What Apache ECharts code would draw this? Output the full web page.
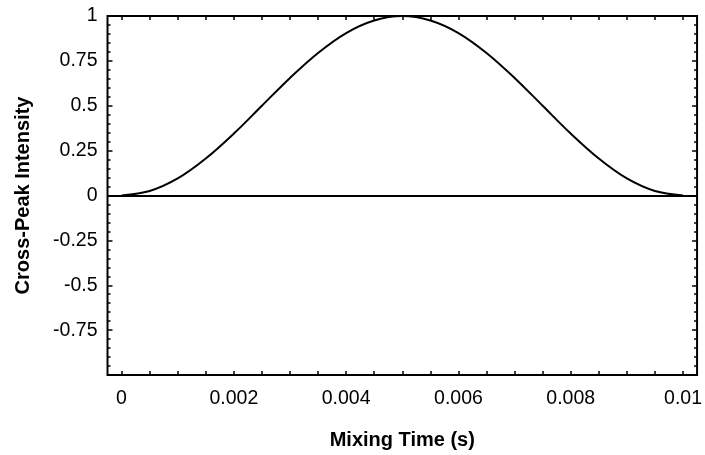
<!DOCTYPE html>
<html><head><meta charset="utf-8">
<script src="https://cdn.jsdelivr.net/npm/echarts@6/dist/echarts.min.js"></script>
<style>html,body{margin:0;padding:0;background:#fff}#c{width:705px;height:455px}</style>
</head><body><div id="c"></div>
<script>
// Mixing time (s)
const mixingTime = [0,0.0005,0.001,0.0015,0.002,0.0025,0.003,0.0035,0.004,0.0045,0.005,0.0055,0.006,0.0065,0.007,0.0075,0.008,0.0085,0.009,0.0095,0.01];
// Cross-peak intensity
const intensity = [0,0.025,0.095,0.206,0.345,0.5,0.655,0.794,0.905,0.975,1,0.975,0.905,0.794,0.655,0.5,0.345,0.206,0.095,0.025,0];
const xTickLabels = [0,0.002,0.004,0.006,0.008,0.01];
const xMinorTicks = [0,0.0005,0.001,0.0015,0.002,0.0025,0.003,0.0035,0.004,0.0045,0.005,0.0055,0.006,0.0065,0.007,0.0075,0.008,0.0085,0.009,0.0095,0.01];
const yTickLabels = [-0.75,-0.5,-0.25,0,0.25,0.5,0.75,1];

const font = 'Liberation Sans, Arial, Helvetica, sans-serif';
const chart = echarts.init(document.getElementById('c'));
const xBase = {
  type:'value', min:-0.00025, max:0.01025,
  axisLine:{show:false, onZero:false}, splitLine:{show:false},
  axisTick:{show:true, inside:true, length:4, lineStyle:{color:'#000', width:1.5}, customValues:xMinorTicks}
};
const yBase = {
  type:'value', min:-1, max:1, interval:0.25,
  axisLine:{show:false, onZero:false}, splitLine:{show:false},
  axisTick:{show:true, inside:true, length:5, lineStyle:{color:'#000', width:1.5}},
  minorTick:{show:true, splitNumber:5, length:3, lineStyle:{color:'#000', width:1.5}}
};
chart.setOption({
  animation:false,
  backgroundColor:'#fff',
  grid:{left:107.5, right:7.5, top:16, bottom:74.5, show:true, borderColor:'#000', borderWidth:2, backgroundColor:'transparent'},
  xAxis:[
    Object.assign({}, xBase, {
      position:'bottom',
      name:'Mixing Time (s)', nameLocation:'middle', nameGap:55,
      nameTextStyle:{fontFamily:font, fontSize:20, fontWeight:'bold', color:'#000'},
      axisLabel:{show:true, margin:14, fontFamily:font, fontSize:19.5, color:'#000', customValues:xTickLabels,
        formatter:v=>String(+v.toFixed(4))}
    }),
    Object.assign({}, xBase, {position:'top', axisLabel:{show:false}})
  ],
  yAxis:[
    Object.assign({}, yBase, {
      position:'left',
      name:'Cross-Peak Intensity', nameLocation:'middle', nameGap:74,
      nameTextStyle:{fontFamily:font, fontSize:20, fontWeight:'bold', color:'#000'},
      axisLabel:{show:true, margin:10, fontFamily:font, fontSize:19.5, color:'#000',
        formatter:v=> (v <= -1 ? '' : String(+v.toFixed(2)))}
    }),
    Object.assign({}, yBase, {position:'right', axisLabel:{show:false}})
  ],
  series:[{
    type:'line', xAxisIndex:0, yAxisIndex:0,
    data: mixingTime.map((t,i)=>[t, intensity[i]]),
    smooth:0.35, showSymbol:false,
    lineStyle:{color:'#000', width:2},
    markLine:{silent:true, symbol:'none', label:{show:false},
      lineStyle:{color:'#000', width:2, type:'solid'},
      data:[{yAxis:0}]}
  }]
});
</script></body></html>
